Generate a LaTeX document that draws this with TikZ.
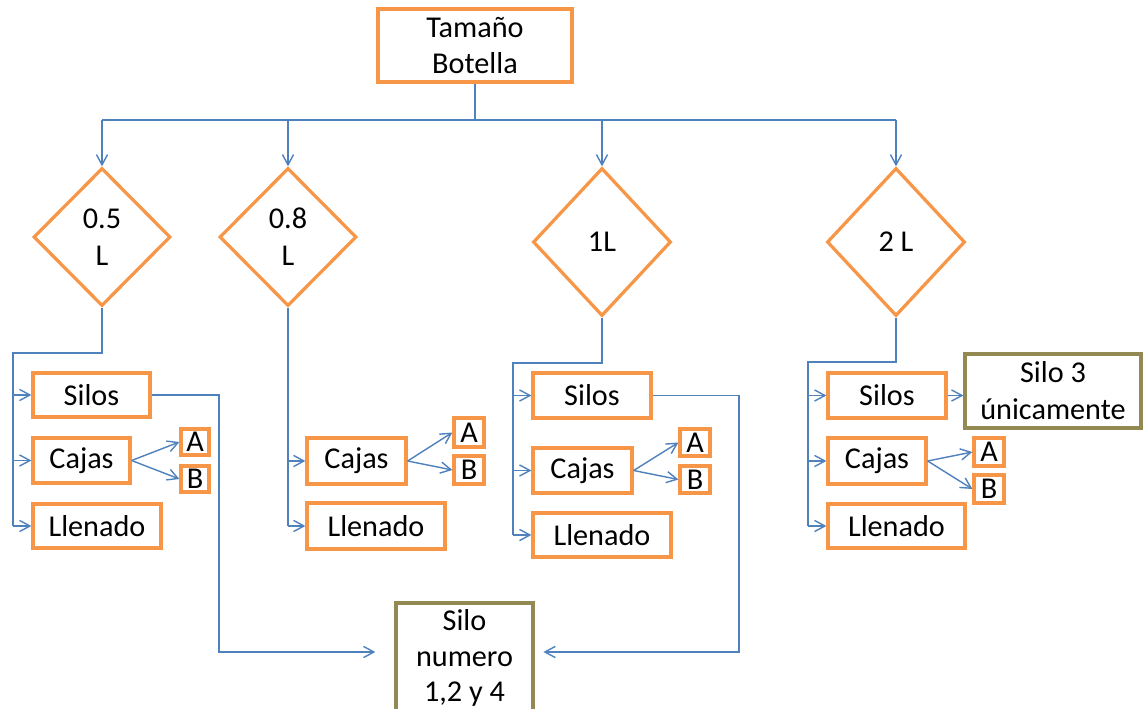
\documentclass[tikz,border=0pt]{standalone}
\usepackage{fontspec}
\setmainfont{Carlito}
\usetikzlibrary{arrows.meta,shapes.geometric}
\definecolor{naranja}{HTML}{F79646}
\definecolor{azul}{HTML}{4F81BD}
\definecolor{oliva}{HTML}{938953}
\tikzset{
  caja/.style={draw=naranja,line width=2.3pt,inner sep=0pt,align=center},
  cajao/.style={caja,draw=oliva},
  rombo/.style={diamond,draw=naranja,line width=2.3pt,inner sep=0pt,align=center},
  linea/.style={azul,line width=1pt},
  flecha/.style={-{Straight Barb[length=2.6mm,width=2.8mm]},azul,line width=1pt},
}
\begin{document}
\begin{tikzpicture}[x=0.025cm,y=-0.025cm,font=\fontsize{21.5}{26.2}\selectfont]
  \clip (0,0) rectangle (1144,709);
  % raiz y rombos
  \node[caja,minimum width=4.85cm,minimum height=1.825cm] (tam) at (475,45.5) {Tamaño\\Botella};
  \node[rombo,minimum width=3.425cm,minimum height=3.45cm] (d05) at (102,237) {0.5\\L};
  \node[rombo,minimum width=3.425cm,minimum height=3.45cm] (d08) at (288,237) {0.8\\L};
  \node[rombo,minimum width=3.45cm,minimum height=3.7cm] (d1) at (602,242) {1L};
  \node[rombo,minimum width=3.45cm,minimum height=3.7cm] (d2) at (896,242) {2 L};
  % grupo 0.5 L
  \node[caja,minimum width=2.925cm,minimum height=1.1cm] (s1) at (91.5,395) {Silos};
  \node[caja,minimum width=2.425cm,minimum height=1.125cm] (c1) at (81.5,460.5) {Cajas};
  \node[caja,minimum width=3.2cm,minimum height=1.1cm] (l1) at (97,526) {Llenado};
  \node[caja,minimum width=0.7cm,minimum height=0.65cm] (a1) at (195,442) {A};
  \node[caja,minimum width=0.7cm,minimum height=0.65cm] (b1) at (195,479) {B};
  % grupo 0.8 L
  \node[caja,minimum width=2.475cm,minimum height=1.15cm] (c2) at (356.5,461) {Cajas};
  \node[caja,minimum width=3.45cm,minimum height=1.15cm] (l2) at (376,526) {Llenado};
  \node[caja,minimum width=0.75cm,minimum height=0.725cm] (a2) at (469,432.5) {A};
  \node[caja,minimum width=0.75cm,minimum height=0.7cm] (b2) at (469,470) {B};
  % grupo 1L
  \node[caja,minimum width=2.95cm,minimum height=1.125cm] (s3) at (592,395.5) {Silos};
  \node[caja,minimum width=2.475cm,minimum height=1.125cm] (c3) at (582.5,470.5) {Cajas};
  \node[caja,minimum width=3.45cm,minimum height=1.1cm] (l3) at (602,535) {Llenado};
  \node[caja,minimum width=0.75cm,minimum height=0.675cm] (a3) at (695,442.5) {A};
  \node[caja,minimum width=0.75cm,minimum height=0.675cm] (b3) at (695,479.5) {B};
  % grupo 2 L
  \node[caja,minimum width=2.95cm,minimum height=1.125cm] (s4) at (887,395.5) {Silos};
  \node[caja,minimum width=2.45cm,minimum height=1.15cm] (c4) at (877,461) {Cajas};
  \node[caja,minimum width=3.425cm,minimum height=1.1cm] (l4) at (896.5,526) {Llenado};
  \node[caja,minimum width=0.75cm,minimum height=0.7cm] (a4) at (989,452) {A};
  \node[caja,minimum width=0.75cm,minimum height=0.7cm] (b4) at (989,489) {B};
  % silos destino
  \node[cajao,minimum width=4.4cm,minimum height=1.85cm] (silo3) at (1053,391) {Silo 3\\únicamente};
  \node[cajao,minimum width=3.425cm,minimum height=2.75cm,font=\fontsize{21.5}{25.4}\selectfont] (silon) at (464.5,658) {Silo\\numero\\1,2 y 4};

  % reparto desde la raiz
  \coordinate (bus) at (475,120);
  \draw[linea] (tam.south) -- (bus);
  \draw[linea] (d05.north |- bus) -- (d2.north |- bus);
  \draw[flecha] (d05.north |- bus) -- (d05.north);
  \draw[flecha] (d08.north |- bus) -- (d08.north);
  \draw[flecha] (d1.north |- bus) -- (d1.north);
  \draw[flecha] (d2.north |- bus) -- (d2.north);

  % 0.5 L
  \coordinate (g1) at (13,353);
  \draw[linea] (d05.south) |- (g1) -- (g1 |- l1.west);
  \draw[flecha] (g1 |- s1.west) -- (s1.west);
  \draw[flecha] (g1 |- c1.west) -- (c1.west);
  \draw[flecha] (g1 |- l1.west) -- (l1.west);
  \draw[flecha] (c1.east) -- (a1.west);
  \draw[flecha] (c1.east) -- (b1.west);
  \coordinate (e1) at (219,652);
  \draw[flecha,shorten >=0.475cm] (s1.east) -| (e1) -- (silon.west |- e1);

  % 0.8 L
  \draw[linea] (d08.south) -- (d08.south |- l2.west);
  \draw[flecha] (d08.south |- c2.west) -- (c2.west);
  \draw[flecha] (d08.south |- l2.west) -- (l2.west);
  \draw[flecha] (c2.east) -- (a2.west);
  \draw[flecha] (c2.east) -- (b2.west);

  % 1L
  \coordinate (g3) at (513,363);
  \draw[linea] (d1.south) |- (g3) -- (g3 |- l3.west);
  \draw[flecha] (g3 |- s3.west) -- (s3.west);
  \draw[flecha] (g3 |- c3.west) -- (c3.west);
  \draw[flecha] (g3 |- l3.west) -- (l3.west);
  \draw[flecha] (c3.east) -- (a3.west);
  \draw[flecha] (c3.east) -- (b3.west);
  \coordinate (e3) at (739,652);
  \draw[flecha,shorten >=0.22cm] (s3.east) -| (e3) -- (silon.east |- e3);

  % 2 L
  \coordinate (g4) at (808,362);
  \draw[linea] (d2.south) |- (g4) -- (g4 |- l4.west);
  \draw[flecha] (g4 |- s4.west) -- (s4.west);
  \draw[flecha] (g4 |- c4.west) -- (c4.west);
  \draw[flecha] (g4 |- l4.west) -- (l4.west);
  \draw[flecha] (c4.east) -- (a4.west);
  \draw[flecha] (c4.east) -- (b4.west);
  \draw[flecha] (s4.east) -- (s4.east -| silo3.west);
\end{tikzpicture}
\end{document}
